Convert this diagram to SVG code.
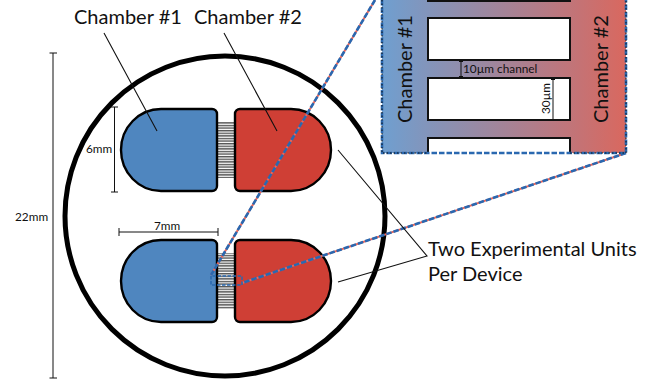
<svg xmlns="http://www.w3.org/2000/svg" width="654" height="381" viewBox="0 0 654 381">
<style>
text{font-family:Lato,"Liberation Sans",sans-serif;fill:#111}
.big{font-size:20px}
.dim{font-size:11.800px}
.thin{stroke:#111;stroke-width:1;fill:none}
.lead{stroke:#111;stroke-width:1.1;fill:none}
.body{stroke:#000;stroke-width:2.4}
.blue{fill:#4f86bf}
.red{fill:#cf3f35}
.hole{fill:#fff;stroke:#111;stroke-width:2}
.zr{stroke:#e8675c;stroke-width:2;fill:none}
.zb{stroke:#2a68b0;stroke-width:2.600;fill:none;stroke-dasharray:5.500 2}
</style>
<defs>
<linearGradient id="g" x1="0" x2="1" y1="0" y2="0">
<stop offset="0" stop-color="#6f9fd0"/>
<stop offset="1" stop-color="#d9685f"/>
</linearGradient>
<pattern id="ch" width="4" height="2.6" patternUnits="userSpaceOnUse">
<rect width="4" height="2.6" fill="#fff"/>
<rect width="4" height="1.4" fill="#555"/>
</pattern>
</defs>
<rect width="654" height="381" fill="#fff"/>
<g id="device"><circle cx="225" cy="216" r="160" fill="none" stroke="#000" stroke-width="5"/></g>
<g id="unit-top">
<rect x="218" y="122" width="16" height="56" fill="url(#ch)"/>
<path class="body blue" d="M161 109H212a5 5 0 0 1 5 5V186a5 5 0 0 1-5 5H161a40 41 0 0 1 0-82Z"/>
<path class="body red" d="M291 109H240a5 5 0 0 0-5 5V186a5 5 0 0 0 5 5H291a40 41 0 0 0 0-82Z"/>
</g>
<g id="unit-bottom">
<rect x="218" y="253" width="16" height="56" fill="url(#ch)"/>
<path class="body blue" d="M161 240H212a5 5 0 0 1 5 5V317a5 5 0 0 1-5 5H161a40 41 0 0 1 0-82Z"/>
<path class="body red" d="M291 240H240a5 5 0 0 0-5 5V317a5 5 0 0 0 5 5H291a40 41 0 0 0 0-82Z"/>
</g>
<g id="inset">
<rect x="382" y="-4" width="244" height="157" fill="url(#g)"/>
<rect class="hole" x="428" y="-20" width="142" height="21"/>
<rect class="hole" x="428" y="18" width="142" height="42"/>
<rect class="hole" x="428" y="78" width="142" height="42"/>
<path d="M428 153V138H570V153" fill="#fff" stroke="#111" stroke-width="2"/>
<text x="412" y="123" font-size="20" transform="rotate(-90 412 123)">Chamber #1</text>
<text x="608" y="123" font-size="20" transform="rotate(-90 608 123)">Chamber #2</text>
<path class="thin" d="M461 61V77M459 61.500H463M459 76.500H463M553 79V119M551 79.500H555M551 119.500H555"/>
<text class="dim" x="463" y="73">10µm channel</text>
<text class="dim" x="550" y="114" transform="rotate(-90 550 114)">30µm</text>
</g>
<g id="connectors">
<path class="zr" d="M375 0L211 275M626 153L242 283"/>
<path class="zb" d="M382 0V153H626V0M375 0L211 275M626 153L242 283"/>
<path d="M382 0V153H428M570 153H626V0" fill="none" stroke="#111" stroke-width="1" stroke-dasharray="1.500 2"/>
<path d="M211 276V285H242V276H211" fill="none" stroke="#2a68b0" stroke-width="1.500" stroke-dasharray="3.500 1.500"/>
<path class="lead" d="M104 33L157 131M224 33L277 131M338 150L427 256L338 282"/>
<path class="thin" d="M53 53V378M49.500 53H57M49.500 378H57M114.500 107V192M111 107H118M111 192H118M119 228V236M119 232H218M218 228V236"/>
</g>
<g id="labels">
<text class="big" x="74" y="24">Chamber #1</text>
<text class="big" x="194" y="24">Chamber #2</text>
<text class="big" x="428" y="256">Two Experimental Units</text>
<text class="big" x="428" y="281">Per Device</text>
<text class="dim" x="15" y="221">22mm</text>
<text class="dim" x="86" y="153">6mm</text>
<text class="dim" x="154" y="230">7mm</text>
</g>
</svg>
